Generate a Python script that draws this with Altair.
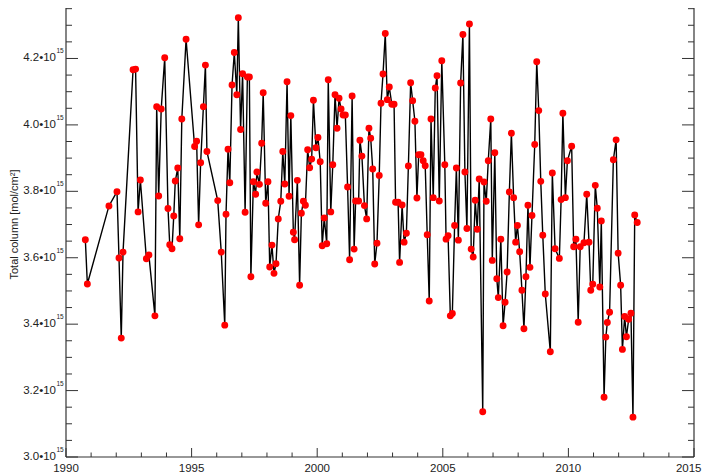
import altair as alt
import pandas as pd

# ---- data (column in units of 1e15 mol/cm^2) ----
years = [
    1990.77, 1990.85, 1991.71, 1992.03, 1992.11, 1992.20, 1992.27, 1992.67, 1992.77, 1992.87,
    1992.96, 1993.20, 1993.30, 1993.54, 1993.61, 1993.69, 1993.79, 1993.93, 1994.06, 1994.13,
    1994.22, 1994.29, 1994.35, 1994.45, 1994.53, 1994.61, 1994.78, 1995.12, 1995.20, 1995.28,
    1995.36, 1995.47, 1995.55, 1995.61, 1996.04, 1996.18, 1996.32, 1996.37, 1996.45, 1996.52,
    1996.61, 1996.70, 1996.80, 1996.86, 1996.95, 1997.03, 1997.13, 1997.22, 1997.30, 1997.36,
    1997.46, 1997.55, 1997.60, 1997.70, 1997.79, 1997.85, 1997.95, 1998.04, 1998.11, 1998.20,
    1998.28, 1998.36, 1998.45, 1998.55, 1998.63, 1998.71, 1998.80, 1998.88, 1998.95, 1999.05,
    1999.10, 1999.21, 1999.30, 1999.37, 1999.45, 1999.53, 1999.62, 1999.70, 1999.78, 1999.85,
    1999.95, 2000.03, 2000.12, 2000.20, 2000.28, 2000.38, 2000.44, 2000.54, 2000.62, 2000.71,
    2000.79, 2000.87, 2000.95, 2001.03, 2001.12, 2001.21, 2001.29, 2001.39, 2001.47, 2001.53,
    2001.65, 2001.70, 2001.78, 2001.88, 2001.97, 2002.06, 2002.13, 2002.21, 2002.29, 2002.38,
    2002.47, 2002.54, 2002.62, 2002.71, 2002.79, 2002.87, 2002.97, 2003.06, 2003.12, 2003.22,
    2003.28, 2003.38, 2003.46, 2003.55, 2003.63, 2003.72, 2003.80, 2003.89, 2003.97, 2004.04,
    2004.13, 2004.22, 2004.30, 2004.38, 2004.46, 2004.53, 2004.62, 2004.70, 2004.77, 2004.86,
    2004.96, 2005.08, 2005.13, 2005.21, 2005.30, 2005.38, 2005.47, 2005.54, 2005.62, 2005.71,
    2005.80, 2005.88, 2005.96, 2006.06, 2006.13, 2006.21, 2006.29, 2006.37, 2006.45, 2006.59,
    2006.64, 2006.73, 2006.81, 2006.91, 2006.97, 2007.07, 2007.15, 2007.21, 2007.31, 2007.40,
    2007.48, 2007.56, 2007.65, 2007.73, 2007.82, 2007.90, 2007.97, 2008.06, 2008.15, 2008.23,
    2008.31, 2008.39, 2008.47, 2008.55, 2008.66, 2008.74, 2008.82, 2008.90, 2008.98, 2009.08,
    2009.28, 2009.36, 2009.47, 2009.64, 2009.71, 2009.78, 2009.88, 2009.96, 2010.13, 2010.21,
    2010.30, 2010.39, 2010.47, 2010.62, 2010.73, 2010.82, 2010.89, 2010.97, 2011.07, 2011.15,
    2011.25, 2011.31, 2011.42, 2011.49, 2011.55, 2011.64, 2011.79, 2011.90, 2011.98, 2012.08,
    2012.15, 2012.24, 2012.31, 2012.40, 2012.49, 2012.57, 2012.64, 2012.74,
]

values = [
    3.654, 3.521, 3.756, 3.799, 3.599, 3.358, 3.617, 4.166, 4.168, 3.738,
    3.834, 3.597, 3.608, 3.425, 4.055, 3.786, 4.048, 4.202, 3.748, 3.639,
    3.627, 3.726, 3.831, 3.870, 3.657, 4.018, 4.258, 3.935, 3.951, 3.699,
    3.886, 4.055, 4.180, 3.920, 3.772, 3.617, 3.397, 3.731, 3.927, 3.826,
    4.120, 4.218, 4.091, 4.323, 3.986, 4.154, 3.737, 4.144, 4.144, 3.543,
    3.829, 3.791, 3.858, 3.821, 3.945, 4.097, 3.764, 3.829, 3.572, 3.638,
    3.553, 3.582, 3.717, 3.770, 3.920, 3.822, 4.130, 3.785, 4.028, 3.677,
    3.654, 3.833, 3.517, 3.734, 3.770, 3.758, 3.925, 3.871, 3.897, 4.074,
    3.931, 3.962, 3.889, 3.636, 3.720, 3.642, 4.136, 3.738, 3.880, 4.091,
    3.990, 4.080, 4.048, 4.030, 4.030, 3.813, 3.594, 4.087, 3.626, 3.771,
    3.771, 3.954, 3.906, 3.757, 3.717, 3.990, 3.960, 3.867, 3.581, 3.644,
    3.848, 4.065, 4.153, 4.275, 4.076, 4.114, 4.062, 4.062, 3.767, 3.767,
    3.586, 3.759, 3.647, 3.674, 3.876, 4.127, 4.073, 4.011, 3.780, 3.910,
    3.910, 3.892, 3.877, 3.669, 3.470, 4.018, 3.781, 4.111, 4.148, 3.771,
    4.193, 3.880, 3.656, 3.666, 3.425, 3.432, 3.697, 3.870, 3.653, 4.126,
    4.272, 3.858, 3.688, 4.304, 3.626, 3.602, 3.773, 3.686, 3.837, 3.136,
    3.828, 3.770, 3.892, 4.018, 3.592, 3.916, 3.537, 3.480, 3.656, 3.395,
    3.466, 3.557, 3.798, 3.975, 3.781, 3.647, 3.697, 3.618, 3.502, 3.386,
    3.543, 3.758, 3.571, 3.727, 3.941, 4.190, 4.043, 3.830, 3.668, 3.491,
    3.317, 3.855, 3.627, 3.598, 3.775, 4.035, 3.781, 3.892, 3.936, 3.633,
    3.656, 3.406, 3.633, 3.645, 3.791, 3.647, 3.502, 3.520, 3.818, 3.749,
    3.512, 3.711, 3.180, 3.361, 3.405, 3.436, 3.895, 3.955, 3.614, 3.517,
    3.324, 3.423, 3.362, 3.415, 3.433, 3.120, 3.729, 3.706,
]

x_major = [1990, 1995, 2000, 2005, 2010, 2015]
x_major_labels = ["1990", "1995", "2000", "2005", "2010", "2015"]
x_minor = [1991, 1992, 1993, 1994, 1996, 1997, 1998, 1999, 2001, 2002, 2003, 2004,
           2006, 2007, 2008, 2009, 2011, 2012, 2013, 2014]
y_major = [3.0, 3.2, 3.4, 3.6, 3.8, 4.0, 4.2]
y_minor = [3.05, 3.10, 3.15, 3.25, 3.30, 3.35, 3.45, 3.50, 3.55, 3.65, 3.70, 3.75,
           3.85, 3.90, 3.95, 4.05, 4.10, 4.15, 4.25, 4.30, 4.35]
y_label_text = ["3.0•10", "3.2•10", "3.4•10", "3.6•10", "3.8•10", "4.0•10", "4.2•10"]
y_label_exp = ["15", "15", "15", "15", "15", "15", "15"]
y_title = ["Total column [mol/cm²]"]

X_DOMAIN = [1990, 2015]
Y_DOMAIN = [3.0, 4.352]   # the frame top (4.4) lies just above the picture
W, H = 628, 449
FONT = "Liberation Sans"
AX = "#333333"
TXT = "#222222"

xs = alt.Scale(domain=X_DOMAIN, nice=False, zero=False)
ys = alt.Scale(domain=Y_DOMAIN, nice=False, zero=False)


def X(field):
    return alt.X(field, scale=xs, axis=None)


def Y(field):
    return alt.Y(field, scale=ys, axis=None)


df = pd.DataFrame({"year": years, "col": values})

line = alt.Chart(df).mark_line(color="black", strokeWidth=1.4).encode(
    x=X("year:Q"), y=Y("col:Q"))
pts = alt.Chart(df).mark_circle(color="#ff0000", opacity=1, size=48).encode(
    x=X("year:Q"), y=Y("col:Q"))

# frame (left, right, bottom); top edge sits above the picture
frame_df = pd.DataFrame({"x0": [X_DOMAIN[0]], "x1": [X_DOMAIN[1]],
                         "y0": [Y_DOMAIN[0]], "y1": [4.4]})
left_edge = alt.Chart(frame_df).mark_rule(color=AX, strokeWidth=1.2).encode(
    x=X("x0:Q"), y=Y("y0:Q"), y2="y1:Q")
right_edge = alt.Chart(frame_df).mark_rule(color=AX, strokeWidth=1.2).encode(
    x=X("x1:Q"), y=Y("y0:Q"), y2="y1:Q")
bottom_edge = alt.Chart(frame_df).mark_rule(color=AX, strokeWidth=1.2).encode(
    x=X("x0:Q"), x2="x1:Q", y=Y("y0:Q"))


def yticks(vals, length, side):
    d = pd.DataFrame({"v": vals})
    if side == "left":
        xa, xb = alt.value(0), alt.value(length)
    else:
        xa, xb = alt.value(W - length), alt.value(W)
    return alt.Chart(d).mark_rule(color=AX, strokeWidth=1).encode(y=Y("v:Q"), x=xa, x2=xb)


def xticks(vals, length):
    d = pd.DataFrame({"v": vals})
    return alt.Chart(d).mark_rule(color=AX, strokeWidth=1).encode(
        x=X("v:Q"), y=alt.value(H), y2=alt.value(H - length))


ylab_df = pd.DataFrame({"v": y_major, "t": y_label_text, "e": y_label_exp})
ylab = alt.Chart(ylab_df).mark_text(
    align="right", baseline="middle", fontSize=11.5, font=FONT, color=TXT
).encode(y=Y("v:Q"), x=alt.value(-10), text="t:N")
yexp = alt.Chart(ylab_df).mark_text(
    align="left", baseline="middle", fontSize=6.5, font=FONT, color=TXT, dy=-7
).encode(y=Y("v:Q"), x=alt.value(-9.5), text="e:N")

xlab_df = pd.DataFrame({"v": x_major[:-1], "t": x_major_labels[:-1]})
xlab = alt.Chart(xlab_df).mark_text(
    align="center", baseline="top", fontSize=11.5, font=FONT, color=TXT
).encode(x=X("v:Q"), y=alt.value(H + 6), text="t:N")
# last label sits against the right edge of the picture
xlab_last_df = pd.DataFrame({"v": x_major[-1:], "t": x_major_labels[-1:]})
xlab_last = alt.Chart(xlab_last_df).mark_text(
    align="right", baseline="top", fontSize=11.5, font=FONT, color=TXT, dx=7.5
).encode(x=X("v:Q"), y=alt.value(H + 6), text="t:N")

title_df = pd.DataFrame({"t": y_title, "mid": [3.7]})
ytitle = alt.Chart(title_df).mark_text(
    align="center", baseline="middle", angle=270, fontSize=11, font=FONT, color=TXT
).encode(x=alt.value(-51.5), y=Y("mid:Q"), text="t:N")

chart = alt.layer(
    left_edge, right_edge, bottom_edge,
    yticks(y_major, 12, "left"), yticks(y_minor, 6, "left"),
    yticks(y_major, 12, "right"), yticks(y_minor, 6, "right"),
    xticks(x_major, 9), xticks(x_minor, 4.5),
    line, pts,
    ylab, yexp, xlab, xlab_last, ytitle,
).properties(
    width=W, height=H,
    autosize=alt.AutoSizeParams(type="none"),
    padding={"left": 58, "top": 0, "right": 8, "bottom": 16},
).configure_view(stroke=None)

chart.save("out.html", embed_options={"renderer": "svg", "actions": False})
